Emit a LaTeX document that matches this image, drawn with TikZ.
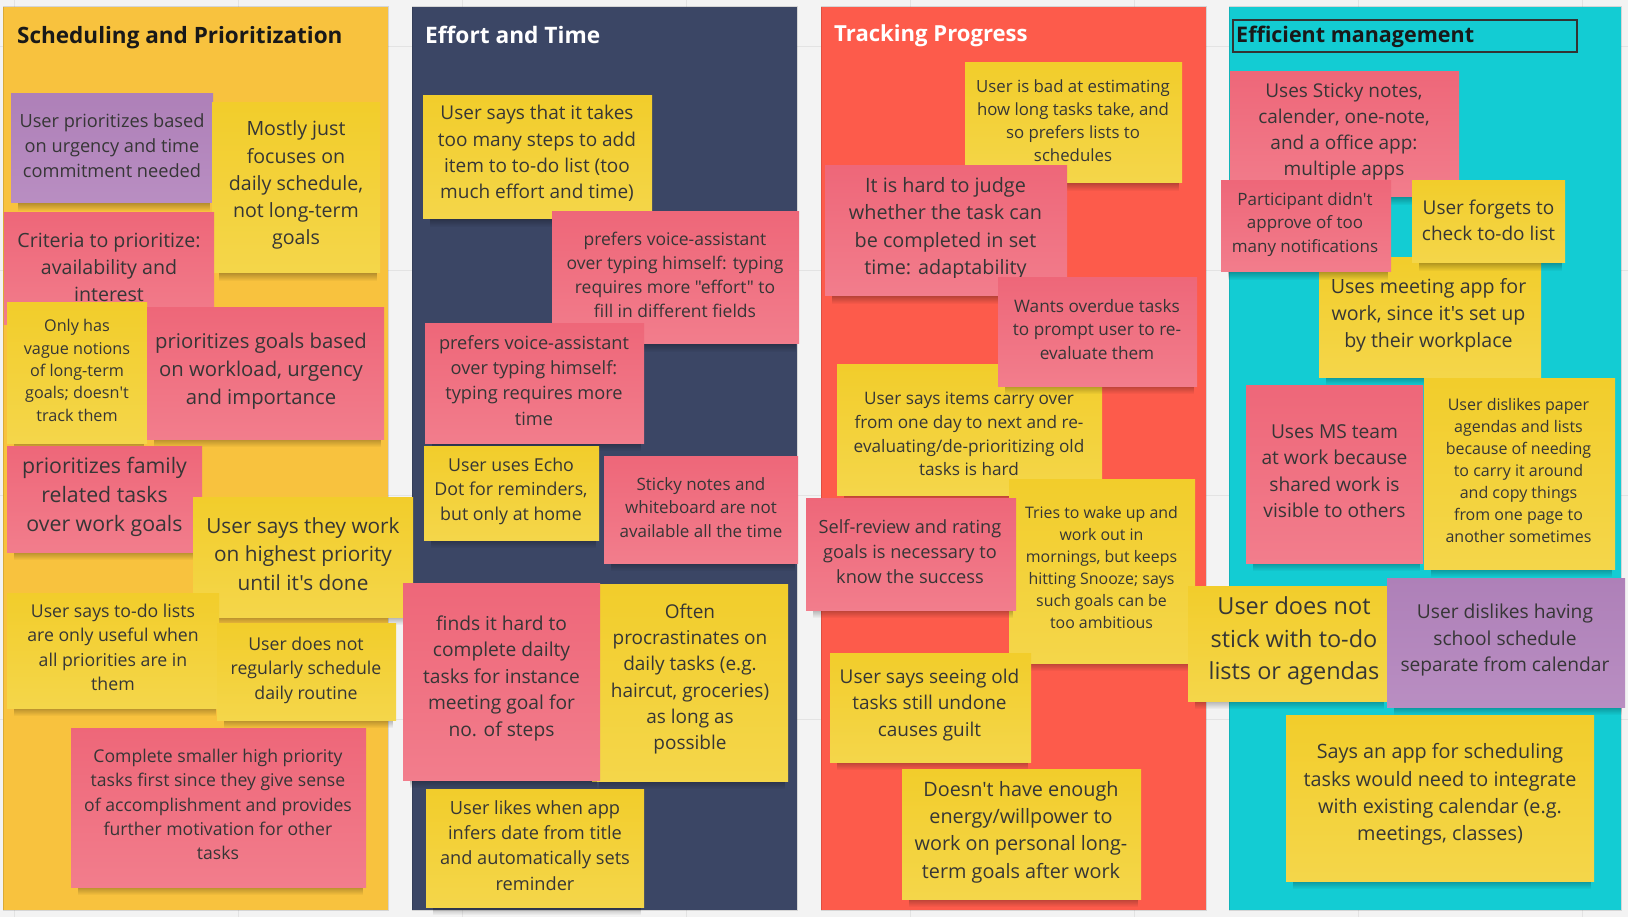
\documentclass[tikz,border=0pt]{standalone}
\usepackage{fontspec}
\setmainfont{Open Sans}[Ligatures=TeXOff]
\usetikzlibrary{fadings}

\definecolor{pagebg}{HTML}{F3F3F3}
\definecolor{gridline}{HTML}{E3E3E3}
\definecolor{colsched}{HTML}{F8C23E}
\definecolor{coleffort}{HTML}{3B4665}
\definecolor{coltrack}{HTML}{FD5B4B}
\definecolor{colmanage}{HTML}{13CCD3}
\definecolor{ytop}{HTML}{F2CD2B}
\definecolor{ybot}{HTML}{F4D64A}
\definecolor{ptop}{HTML}{EE6779}
\definecolor{pbot}{HTML}{F27D8C}
\definecolor{vtop}{HTML}{AE80B8}
\definecolor{vbot}{HTML}{B98EC2}
\definecolor{ink}{HTML}{363636}

\tikzset{
  ynote/.style={top color=ytop, bottom color=ybot},
  pnote/.style={top color=ptop, bottom color=pbot},
  vnote/.style={top color=vtop, bottom color=vbot},
  notetext/.style={text=ink, align=center, inner sep=0pt, yshift=-1pt,
    font=\pgfmathsetmacro\lsk{#1*1.38}\fontsize{#1}{\lsk}\selectfont},
  coltitle/.style={anchor=base west, inner sep=0pt,
    font=\pgfmathsetmacro\lsk{#1*1.2}\fontsize{#1}{\lsk}\selectfont\bfseries},
  column/.style={draw=black, draw opacity=.12, line width=1pt},
}

% sticky note paper: soft shadow under the lower edge, then the note itself
\newcommand\notepaper[5]{%
  \fill[black,opacity=.33,path fading=south] ({#1+7},{#4-2}) rectangle ({#3-3},{#4+8});
  \fill[#5] (#1,#2) rectangle (#3,#4);}

\begin{document}
\begin{tikzpicture}[x=1pt,y=-1pt]
\useasboundingbox (0,0) rectangle (1628,917);
\fill[pagebg] (0,0) rectangle (1628,917);
% board grid
\foreach \gx in {14.3,238.3,...,1600} \draw[gridline,line width=1pt] (\gx,0) -- (\gx,917);
\foreach \gy in {47,271,...,917} \draw[gridline,line width=1pt] (0,\gy) -- (1628,\gy);

% columns
\filldraw[column,fill=colsched]  (3,7)    rectangle (388,910);
\filldraw[column,fill=coleffort] (412,7)  rectangle (797,910);
\filldraw[column,fill=coltrack]  (821,7)  rectangle (1206,910);
\filldraw[column,fill=colmanage] (1229,7) rectangle (1621,910);

\node[coltitle=22.5,text=black!90] (tsched)  at (17,43.5)   {Scheduling and Prioritization};
\node[coltitle=22.7,text=white]    (teffort) at (425,43.5)  {Effort and Time};
\node[coltitle=22.1,text=white]    (ttrack)  at (834,41.5)  {Tracking Progress};
\draw[line width=1.1pt,draw=black!80] (1233,20) rectangle (1577,52);
\node[coltitle=21.5,text=black!90] (tmanage) at (1236,42.5) {Efficient management};

% ---------- Scheduling and Prioritization ----------
\notepaper{11}{94}{213}{203}{vnote}
\node[notetext=18.2] (s1) at (112,145) {User prioritizes based\\on urgency and time\\commitment needed};
\notepaper{212}{103}{380}{273}{ynote}
\node[notetext=19.6] (s2) at (296,184) {Mostly just\\focuses on\\daily schedule,\\not long-term\\goals};
\notepaper{4}{213}{214}{325}{pnote}
\node[notetext=19.6] (s3) at (109,266) {Criteria to prioritize:\\availability and\\interest};
\notepaper{7}{303}{147}{443}{ynote}
\node[notetext=16.2] (s4) at (77,369.5) {Only has\\vague notions\\of long-term\\goals; doesn't\\track them};
\notepaper{147}{308}{384}{439}{pnote}
\node[notetext=20.3] (s5) at (261,370) {prioritizes goals based\\on workload, urgency\\and importance};
\notepaper{7}{446}{202}{552}{pnote}
\node[notetext=21.3] (s6) at (104.5,496) {prioritizes family\\related tasks\\over work goals};
\notepaper{193}{497}{413}{617}{ynote}
\node[notetext=20.8] (s7) at (303,553) {User says they work\\on highest priority\\until it's done};
\notepaper{7}{593}{219}{708}{ynote}
\node[notetext=17.7] (s8) at (113,646.5) {User says to-do lists\\are only useful when\\all priorities are in\\them};
\notepaper{217}{623}{396}{720}{ynote}
\node[notetext=17.7] (s9) at (306,669) {User does not\\regularly schedule\\daily routine};
\notepaper{71}{728}{366}{887}{pnote}
\node[notetext=17.6] (s10) at (218,803.5) {Complete smaller high priority\\tasks first since they give sense\\of accomplishment and provides\\further motivation for other\\tasks};

% ---------- Effort and Time ----------
\notepaper{423}{96}{652}{219}{ynote}
\node[notetext=19] (e1) at (537,152.5) {User says that it takes\\too many steps to add\\item to to-do list (too\\much effort and time)};
\notepaper{552}{212}{799}{344}{pnote}
\node[notetext=17.5] (e2) at (675,274) {prefers voice-assistant\\over typing himself: typing\\requires more "effort" to\\fill in different fields};
\notepaper{425}{324}{644}{443}{pnote}
\node[notetext=18.2] (e3) at (534,379.5) {prefers voice-assistant\\over typing himself:\\typing requires more\\time};
\notepaper{424}{446}{599}{540}{ynote}
\node[notetext=17.8] (e4) at (511,490) {User uses Echo\\Dot for reminders,\\but only at home};
\notepaper{604}{456}{798}{563}{pnote}
\node[notetext=17] (e5) at (701,506.5) {Sticky notes and\\whiteboard are not\\available all the time};
\notepaper{592}{584}{788}{781}{ynote}
\node[notetext=19] (e7) at (690,678) {Often\\procrastinates on\\daily tasks (e.g.\\haircut, groceries)\\as long as\\possible};
\notepaper{403}{583}{600}{780}{pnote}
\node[notetext=19.2] (e6) at (501.5,677) {finds it hard to\\complete dailty\\tasks for instance\\meeting goal for\\no. of steps};
\notepaper{426}{789}{644}{907}{ynote}
\node[notetext=18.2] (e8) at (535,844.5) {User likes when app\\infers date from title\\and automatically sets\\reminder};

% ---------- Tracking Progress ----------
\notepaper{965}{63}{1182}{183}{ynote}
\node[notetext=16.8] (r1) at (1073,119.5) {User is bad at estimating\\how long tasks take, and\\so prefers lists to\\schedules};
\notepaper{825}{166}{1067}{296}{pnote}
\begin{scope}
  % the text of this note runs past its text area and is cut off there
  \clip (825,166) rectangle (1067,278);
  \node[notetext=19.8] (r2) at (945.5,227.5) {It is hard to judge\\whether the task can\\be completed in set\\time: adaptability};
\end{scope}
\notepaper{837}{364}{1102}{495}{ynote}
\node[notetext=17.2] (r4) at (969,433) {User says items carry over\\from one day to next and re-\\evaluating/de-prioritizing old\\tasks is hard};
\notepaper{998}{278}{1197}{386}{pnote}
\node[notetext=17.2] (r3) at (1097,328.5) {Wants overdue tasks\\to prompt user to re-\\evaluate them};
\notepaper{1009}{479}{1195}{663}{ynote}
\node[notetext=15.9] (r6) at (1101.5,566.5) {Tries to wake up and\\work out in\\mornings, but keeps\\hitting Snooze; says\\such goals can be\\too ambitious};
\notepaper{806}{498}{1016}{610}{pnote}
\node[notetext=18.2] (r5) at (910,551) {Self-review and rating\\goals is necessary to\\know the success};
\notepaper{830}{653}{1031}{762}{ynote}
\node[notetext=19] (r7) at (929.5,704) {User says seeing old\\tasks still undone\\causes guilt};
\notepaper{902}{769}{1141}{899}{ynote}
\node[notetext=19.8] (r8) at (1021,831) {Doesn't have enough\\energy/willpower to\\work on personal long-\\term goals after work};

% ---------- Efficient management ----------
\notepaper{1230}{72}{1459}{197}{pnote}
\node[notetext=19] (m1) at (1344,130.5) {Uses Sticky notes,\\calender, one-note,\\and a office app:\\multiple apps};
\notepaper{1319}{258}{1541}{377}{ynote}
\node[notetext=19.6] (m4) at (1428.5,314) {Uses meeting app for\\work, since it's set up\\by their workplace};
\notepaper{1412}{181}{1565}{263}{ynote}
\node[notetext=19] (m3) at (1488.5,219) {User forgets to\\check to-do list};
\notepaper{1221}{181}{1391}{272}{pnote}
\node[notetext=17] (m2) at (1305,223.5) {Participant didn't\\approve of too\\many notifications};
\notepaper{1246}{385}{1423}{563}{pnote}
\node[notetext=19.2] (m5) at (1334.5,470) {Uses MS team\\at work because\\shared work is\\visible to others};
\notepaper{1424}{378}{1615}{569}{ynote}
\node[notetext=16] (m6) at (1518.5,469.5) {User dislikes paper\\agendas and lists\\because of needing\\to carry it around\\and copy things\\from one page to\\another sometimes};
\notepaper{1188}{586}{1387}{701}{ynote}
\node[notetext=23.5] (m7) at (1294,640) {User does not\\stick with to-do\\lists or agendas};
\notepaper{1387}{578}{1625}{707}{vnote}
\node[notetext=19.2] (m8) at (1505,639.5) {User dislikes having\\school schedule\\separate from calendar};
\notepaper{1286}{715}{1594}{881}{ynote}
\node[notetext=19.8] (m9) at (1440,793.5) {Says an app for scheduling\\tasks would need to integrate\\with existing calendar (e.g.\\meetings, classes)};
\end{tikzpicture}
\end{document}
